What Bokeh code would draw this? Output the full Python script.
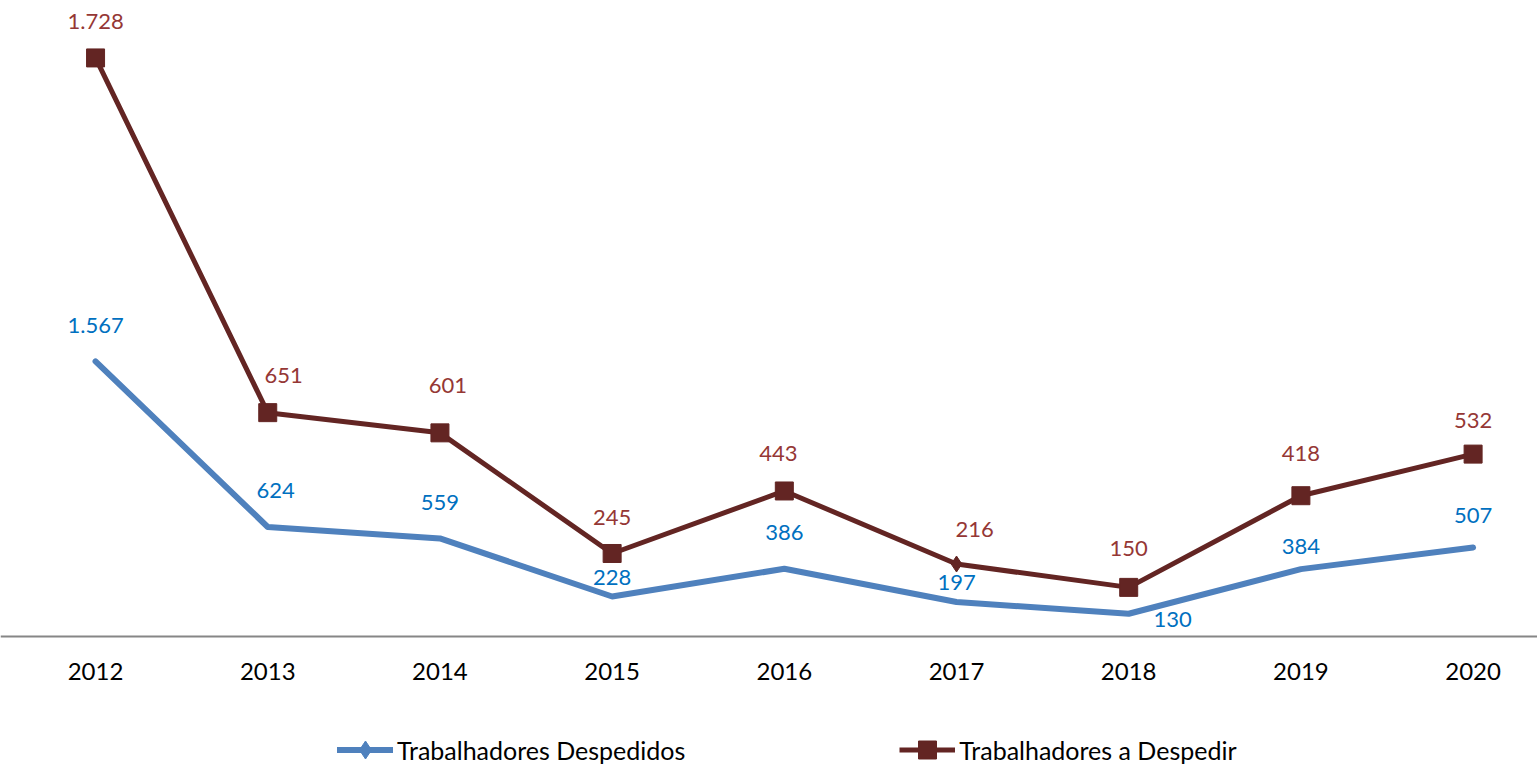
from bokeh.plotting import figure
from bokeh.models import ColumnDataSource, Legend, LegendItem, FixedTicker, Range1d
from bokeh.core.properties import value
from bokeh.embed import file_html
from bokeh.resources import INLINE

years = ["2012", "2013", "2014", "2015", "2016", "2017", "2018", "2019", "2020"]
despedidos = [1567, 624, 559, 228, 386, 197, 130, 384, 507]
a_despedir = [1728, 651, 601, 245, 443, 216, 150, 418, 532]
desp_labels = ["1.567", "624", "559", "228", "386", "197", "130", "384", "507"]
adesp_labels = ["1.728", "651", "601", "245", "443", "216", "150", "418", "532"]

# label placement tweaks (screen px)
desp_dx = [0, 8, 0, 0, 0, 0, 44, 0, 0]
desp_dy = [-36, -36, -36, -19, -36, -19, 6, -23, -32]
adesp_dx = [0, 16, 8, 0, -6, 18, 0, 0, 0]
adesp_dy = [-36, -37, -47, -36, -37, -35, -39, -42, -34]
adesp_markers = ["square"] * 5 + ["diamond"] + ["square"] * 3
adesp_msize = [18] * 5 + [16] + [18] * 3

FONT = "Lato"
BLUE_LINE = "#4F81BD"
RED_LINE = "#632523"
BLUE_TXT = "#0070C0"
RED_TXT = "#953735"

xs = list(range(len(years)))
stacked = [a + b for a, b in zip(despedidos, a_despedir)]

src_b = ColumnDataSource(dict(x=xs, y=despedidos, t=desp_labels, dx=desp_dx, dy=desp_dy))
src_r = ColumnDataSource(dict(x=xs, y=stacked, t=adesp_labels, dx=adesp_dx, dy=adesp_dy,
                              m=adesp_markers, s=adesp_msize))

p = figure(width=1537, height=766, output_backend="svg", toolbar_location=None,
           x_range=Range1d(-0.552, 8.374), y_range=Range1d(-740, 3622))
p.min_border_left = 0
p.min_border_right = 0
p.min_border_top = 0
p.min_border_bottom = 0
p.outline_line_color = None
p.grid.visible = False
p.yaxis.visible = False

xa = p.xaxis[0]
xa.fixed_location = 0
xa.ticker = FixedTicker(ticks=xs)
xa.major_label_overrides = {i: y for i, y in enumerate(years)}
xa.axis_line_color = "#868686"
xa.axis_line_width = 2
xa.major_tick_line_color = None
xa.minor_tick_line_color = None
xa.major_label_text_font = FONT
xa.major_label_text_font_size = "24px"
xa.major_label_text_color = "#000000"
xa.major_label_standoff = 20

lb = p.line("x", "y", source=src_b, line_color=BLUE_LINE, line_width=6, line_cap="round", line_join="round")
# diamond marker of the first series appears only in the legend
mb = p.scatter("x", "y", source=src_b, marker="diamond", size=18,
               fill_color=BLUE_LINE, line_color=BLUE_LINE, visible=False)
lr = p.line("x", "y", source=src_r, line_color=RED_LINE, line_width=5, line_join="round")
mr = p.scatter("x", "y", source=src_r, marker="m", size="s", fill_color=RED_LINE, line_color=RED_LINE)

p.text("x", "y", text="t", source=src_b, x_offset="dx", y_offset="dy",
       text_font=value(FONT), text_font_size="22px", text_color=BLUE_TXT,
       text_align="center", text_baseline="middle")
p.text("x", "y", text="t", source=src_r, x_offset="dx", y_offset="dy",
       text_font=value(FONT), text_font_size="22px", text_color=RED_TXT,
       text_align="center", text_baseline="middle")

legend = Legend(items=[
    LegendItem(label="Trabalhadores Despedidos", renderers=[lb, mb]),
    LegendItem(label="Trabalhadores a Despedir", renderers=[lr, mr]),
], orientation="horizontal", location=(337, -6))
legend.glyph_width = 56
legend.glyph_height = 45
legend.label_standoff = 4
legend.spacing = 214
legend.label_text_font = FONT
legend.label_text_font_size = "25px"
legend.label_text_color = "#000000"
legend.label_height = 45
legend.border_line_color = None
legend.background_fill_alpha = 0
legend.inactive_fill_alpha = 0
legend.padding = 0
legend.margin = 0
p.add_layout(legend)

open("out.html", "w").write(file_html(p, INLINE))
